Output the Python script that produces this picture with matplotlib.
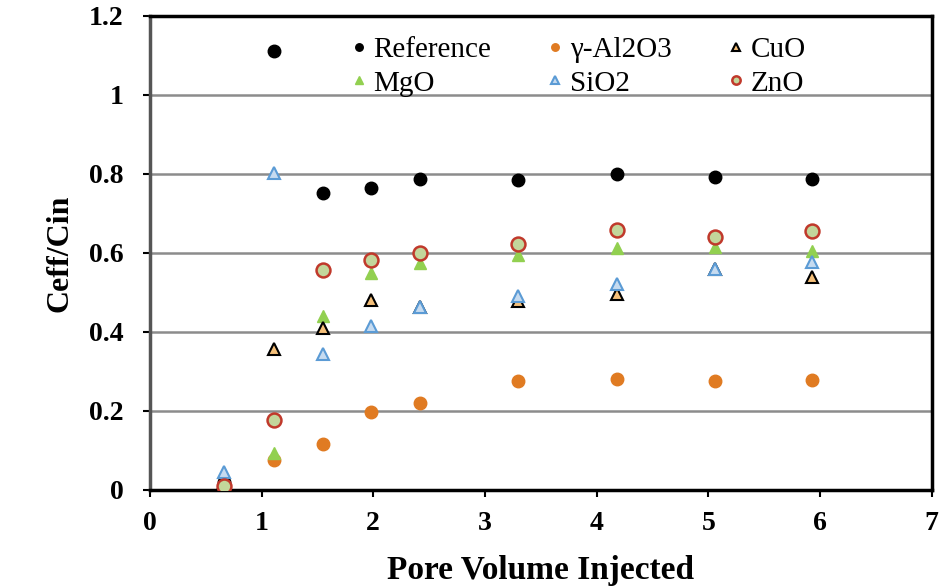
import matplotlib
matplotlib.use("Agg")
import matplotlib.pyplot as plt

# pore volumes injected (x) and normalized effluent concentration per sample
pv = [0.66, 1.11, 1.55, 1.98, 2.42, 3.30, 4.18, 5.06, 5.93]
reference = [0.02, 1.11, 0.752, 0.765, 0.787, 0.785, 0.800, 0.792, 0.787]
al2o3 = [0.01, 0.076, 0.116, 0.197, 0.220, 0.276, 0.281, 0.276, 0.278]
cuo = [0.02, 0.357, 0.410, 0.481, 0.462, 0.478, 0.495, 0.558, 0.540]
mgo = [0.01, 0.093, 0.440, 0.550, 0.575, 0.595, 0.612, 0.615, 0.605]
sio2 = [0.045, 0.803, 0.345, 0.415, 0.463, 0.490, 0.520, 0.560, 0.578]
zno = [0.01, 0.178, 0.556, 0.582, 0.600, 0.623, 0.658, 0.640, 0.656]

plt.rcParams['font.family'] = ['Liberation Serif', 'DejaVu Serif']

fig = plt.figure(figsize=(9.43, 5.88), dpi=100)
ax = fig.add_axes([0.159, 0.167, 0.829, 0.806])

ms = 9
ax.plot(pv, reference, 'o', ms=ms, color='black', mec='black', label='Reference', zorder=3)
ax.plot(pv, al2o3, 'o', ms=ms, color='#E07B22', mec='#E07B22', label='γ-Al2O3', zorder=3)
ax.plot(pv, mgo, '^', ms=ms, color='#92D050', mec='#92D050', label='MgO', zorder=3)
ax.plot(pv, cuo, '^', ms=ms, mfc='#F5C07A', mec='black', mew=1.5, label='CuO', zorder=4)
ax.plot(pv, sio2, '^', ms=ms, mfc='#C6DBF0', mec='#5B9BD5', mew=1.5, label='SiO2', zorder=5)
ax.plot(pv, zno, 'o', ms=ms + 1, mfc='#C3D69B', mec='#C0392B', mew=1.8, label='ZnO', zorder=6)

ax.set_xlim(0, 7)
ax.set_ylim(0, 1.2)
ax.set_xticks(range(0, 8))
ax.set_yticks([0, 0.2, 0.4, 0.6, 0.8, 1.0, 1.2])
ax.set_yticklabels(['0', '0.2', '0.4', '0.6', '0.8', '1', '1.2'])
ax.yaxis.grid(True, color='#8c8c8c', lw=1.8)
ax.set_axisbelow(True)

for side in ['top', 'right', 'bottom']:
    ax.spines[side].set_linewidth(2.5)
    ax.spines[side].set_color('black')
ax.spines['left'].set_linewidth(2.5)
ax.spines['left'].set_color('#555555')

ax.tick_params(axis='both', labelsize=20, width=1.5, length=5, direction='out')
for lbl in ax.get_xticklabels() + ax.get_yticklabels():
    lbl.set_fontweight('bold')
ax.tick_params(axis='x', pad=10)
ax.tick_params(axis='y', pad=14)

ax.set_xlabel('Pore Volume Injected', fontsize=24, fontweight='bold', labelpad=14)
ax.set_ylabel('Ceff/Cin', fontsize=23, fontweight='bold', labelpad=10)

# legend fills column by column, so interleave to get two rows of three
handles, labels = ax.get_legend_handles_labels()
hmap = dict(zip(labels, handles))
order = ['Reference', 'MgO', 'γ-Al2O3', 'SiO2', 'CuO', 'ZnO']
ax.legend([hmap[k] for k in order], order, ncol=3, frameon=False,
          fontsize=21, loc='upper left', bbox_to_anchor=(0.226, 1.012),
          handlelength=0.4, handletextpad=0.3, columnspacing=2.0,
          labelspacing=0.25, markerscale=0.6)

fig.savefig('out.png', dpi=100)
